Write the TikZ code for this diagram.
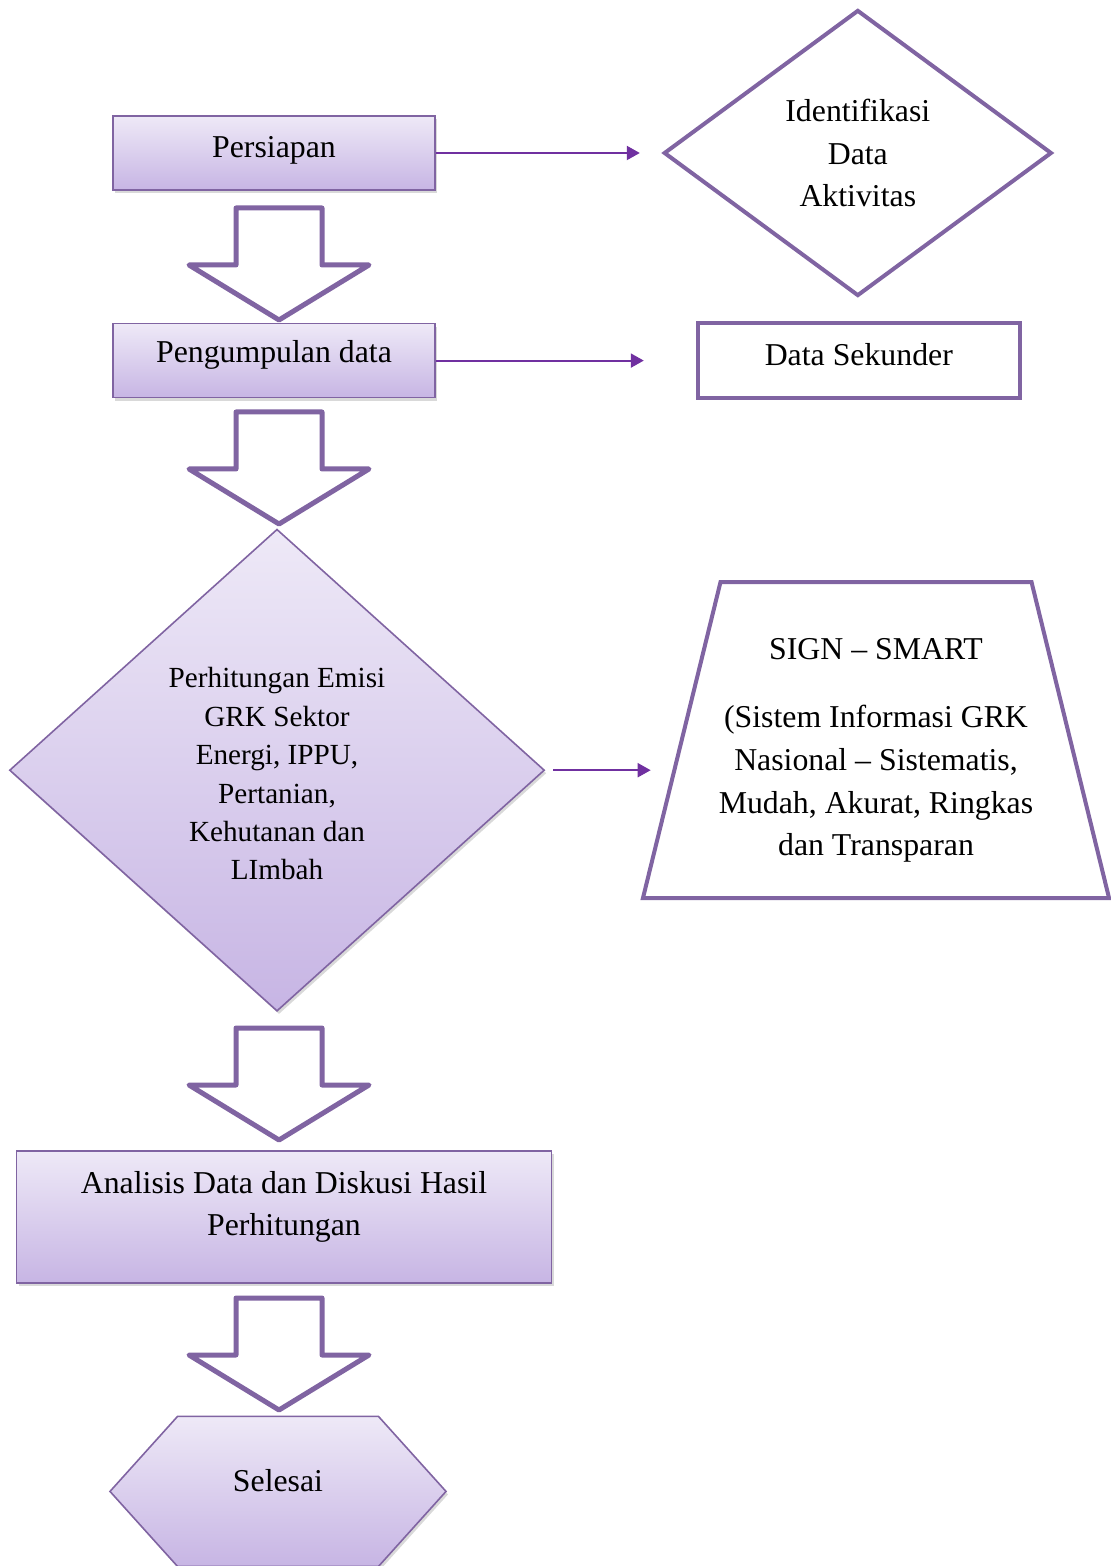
\documentclass[tikz,border=0pt]{standalone}
\usepackage{fontspec}
\setmainfont{Liberation Serif}
\usetikzlibrary{arrows.meta,positioning,shapes.geometric,shapes.symbols,shadows}
\definecolor{boxline}{RGB}{128,100,162}
\definecolor{lavtop}{RGB}{238,233,247}
\definecolor{lavbot}{RGB}{199,181,228}
\definecolor{linkcol}{RGB}{112,48,160}
\newcommand\liftby[2]{\raisebox{#1}[\height][\depth]{#2}}
\tikzset{
    txt/.style={font=\fontsize{15.9}{21.3}\selectfont,align=center},
    soft/.style={txt,top color=lavtop,bottom color=lavbot,draw=boxline,line width=0.8pt,
        drop shadow={opacity=0.3,shadow xshift=1pt,shadow yshift=-1.5pt}},
    box/.style={soft,rectangle,minimum width=161pt,minimum height=37pt},
    bigbox/.style={soft,rectangle,minimum width=267.5pt,minimum height=66pt},
    calcdiamond/.style={soft,diamond,inner sep=1pt,minimum width=267.5pt,minimum height=241pt,
        font=\fontsize{14.6}{19.2}\selectfont},
    hexa/.style={soft,signal,signal to=east and west,signal pointer angle=96,
        minimum width=168pt,minimum height=75pt},
    plain/.style={txt,draw=boxline,line width=2pt,fill=white},
    plainbox/.style={plain,rectangle,minimum width=161pt,minimum height=37.5pt},
    plaindiamond/.style={plain,diamond,minimum width=194pt,minimum height=143pt},
    sign/.style={plain,trapezium,trapezium left angle=76,trapezium right angle=76,inner sep=1pt,
        trapezium stretches=true,minimum width=233pt,minimum height=158pt},
    link/.style={draw=linkcol,line width=1pt,-{Triangle[length=6.5pt,width=7pt]}},
    blockarrow/.pic={
        \draw[draw=boxline,line width=2.5pt,fill=white,line join=round]
            (-43,0) -- (-43,57) -- (-90,57) -- (0,112) -- (90,57) -- (43,57) -- (43,0) -- cycle;
    }
}

\begin{document}
\begin{tikzpicture}[x=0.5pt,y=-0.5pt]

    \useasboundingbox (0,0) rectangle (1111,1566);

    % left column
    \node[box] (persiapan) at (274,153) {\liftby{1.5pt}{Persiapan}};
    \node[box] (pengumpulan) [below=66pt of persiapan] {\liftby{3pt}{Pengumpulan data}};
    \node[calcdiamond] (perhitungan) [below=65pt of pengumpulan,xshift=1.5pt]
        {\liftby{-3pt}{\begin{tabular}{@{}c@{}}Perhitungan Emisi\\GRK Sektor\\Energi, IPPU,\\Pertanian,\\Kehutanan dan\\LImbah\end{tabular}}};
    \node[bigbox] (analisis) [below=69pt of perhitungan,xshift=3.5pt]
        {\liftby{5.5pt}{\begin{tabular}{@{}c@{}}Analisis Data dan Diskusi Hasil\\Perhitungan\end{tabular}}};
    \node[hexa] (selesai) [below=66pt of analisis,xshift=-3pt] {\liftby{5.5pt}{Selesai}};

    % right column
    \node[plaindiamond] (identifikasi) [right=113pt of persiapan] {Identifikasi\\Data\\Aktivitas};
    \node[plainbox] (sekunder) [right=130pt of pengumpulan] {\liftby{3pt}{Data Sekunder}};
    \node[sign] (signsmart) at (876,740)
        {\makebox[0pt]{\raisebox{-9pt}[0pt][0pt]{\begin{tabular}{@{}c@{}}SIGN – SMART\\[12.7pt](Sistem Informasi GRK\\Nasional – Sistematis,\\Mudah, Akurat, Ringkas\\dan Transparan\end{tabular}}}};

    % hollow arrows
    \foreach \y in {208,412,1028,1298}
        \pic at (279,\y) {blockarrow};

    \draw[link,shorten >=11pt] (persiapan) -- (identifikasi);
    \draw[link,shorten >=26pt] (pengumpulan) -- (sekunder);
    \draw[link,shorten <=4pt,shorten >=14.5pt] (perhitungan.east) -- (perhitungan.east -| signsmart.west);

\end{tikzpicture}
\end{document}
